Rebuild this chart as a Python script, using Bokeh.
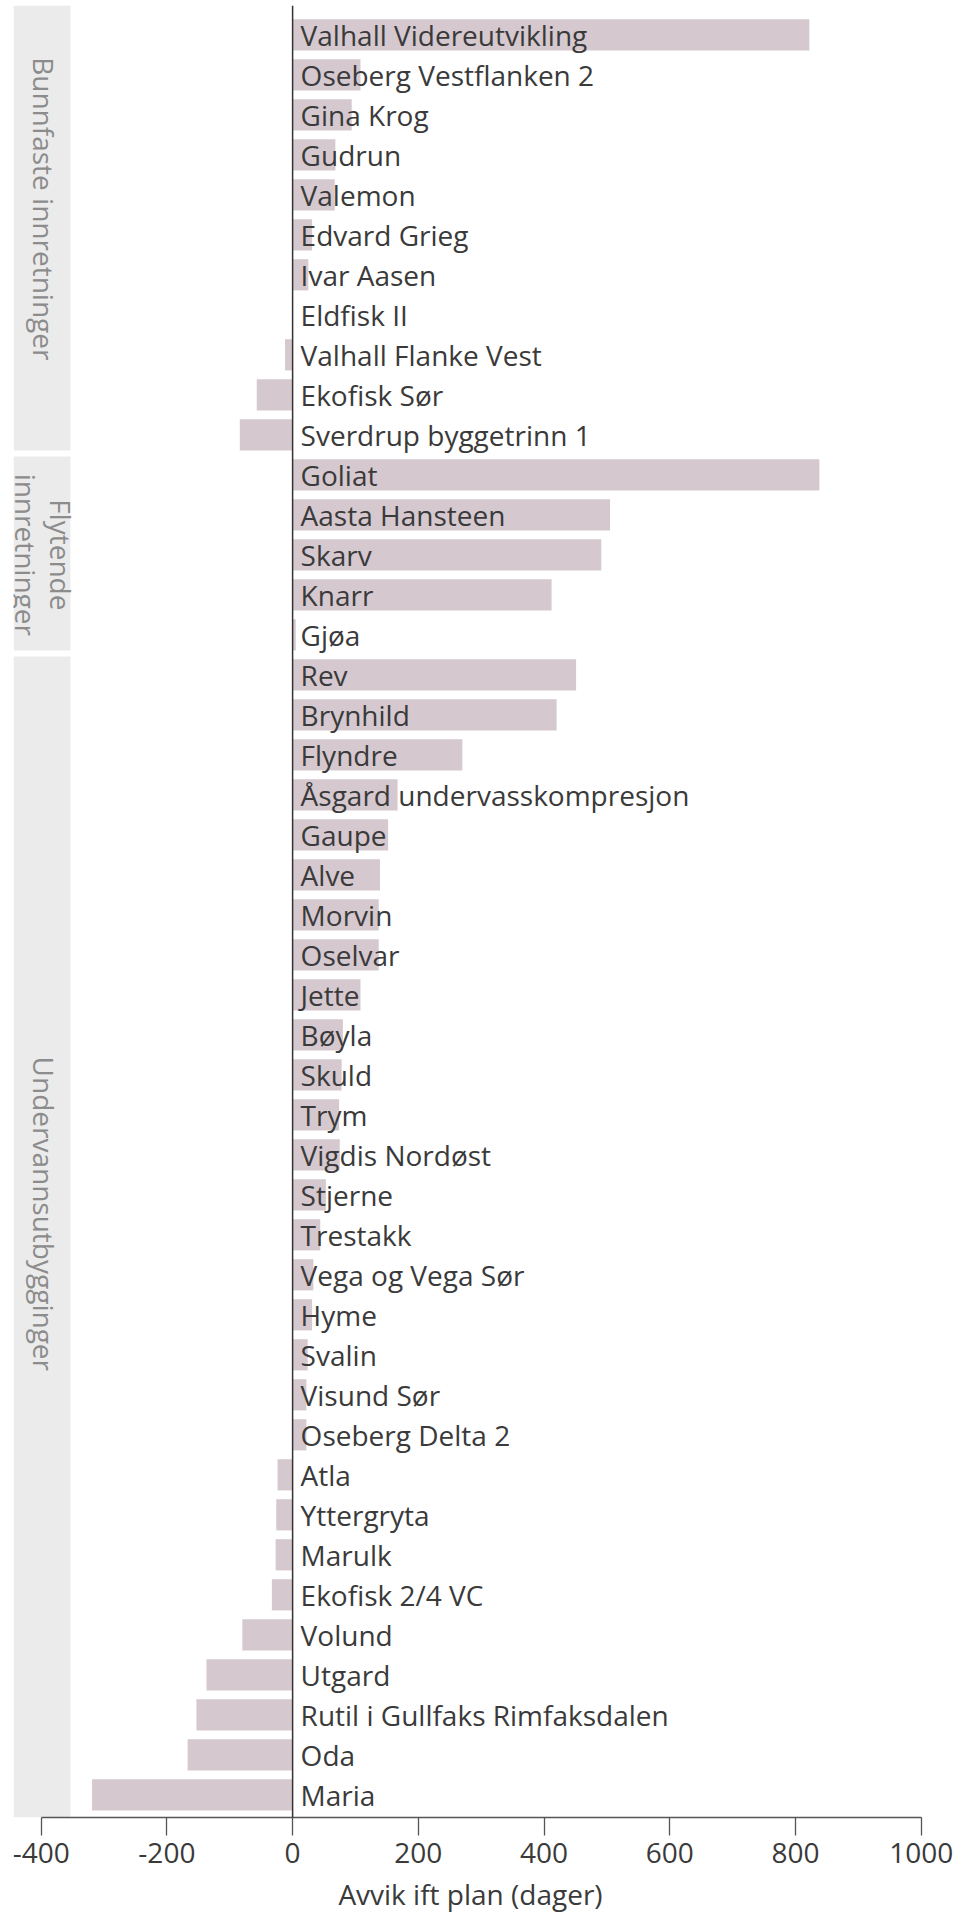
import math
from bokeh.plotting import figure
from bokeh.models import Range1d, Span, ColumnDataSource, FixedTicker
from bokeh.core.properties import value
from bokeh.embed import file_html
from bokeh.resources import INLINE

# ---------------- data ----------------
projects = [
    "Valhall Videreutvikling", "Oseberg Vestflanken 2", "Gina Krog", "Gudrun", "Valemon",
    "Edvard Grieg", "Ivar Aasen", "Eldfisk II", "Valhall Flanke Vest", "Ekofisk Sør",
    "Sverdrup byggetrinn 1",
    "Goliat", "Aasta Hansteen", "Skarv", "Knarr", "Gjøa",
    "Rev", "Brynhild", "Flyndre", "Åsgard undervasskompresjon", "Gaupe", "Alve", "Morvin",
    "Oselvar", "Jette", "Bøyla", "Skuld", "Trym", "Vigdis Nordøst", "Stjerne", "Trestakk",
    "Vega og Vega Sør", "Hyme", "Svalin", "Visund Sør", "Oseberg Delta 2", "Atla",
    "Yttergryta", "Marulk", "Ekofisk 2/4 VC", "Volund", "Utgard",
    "Rutil i Gullfaks Rimfaksdalen", "Oda", "Maria",
]
delays = [
    822, 108, 94, 68, 67, 31, 25, 0, -12, -57, -84,
    838, 505, 491, 412, 5,
    451, 420, 270, 167, 152, 139, 137, 137, 108, 80, 78, 74, 75, 53, 44,
    33, 31, 24, 22, 22, -24, -26, -27, -33, -80, -137, -153, -167, -319,
]
groups = ["Bunnfaste innretninger", "Flytende\ninnretninger", "Undervannsutbygginger"]
group_sizes = [11, 5, 29]
x_ticks = [-400, -200, 0, 200, 400, 600, 800, 1000]
x_title = "Avvik ift plan (dager)"

# ---------------- style ----------------
FONT = "Open Sans"
BAR = "#d5c8cf"
BAND = "#ebebeb"
TXT = "#3a3a3a"
BAND_TXT = "#8c8c8c"
band_label_dy = [-26, 0, -21]  # px shift of the group titles

n = len(projects)
ys = list(range(n))
x0, x1 = -444, 1010
band_left, band_right = -444, -353.5
y_top, y_bot = -0.7325, n - 0.4325

p = figure(
    frame_width=914, frame_height=1812,
    x_range=Range1d(x0, x1), y_range=Range1d(y_bot, y_top),
    y_axis_location=None, output_backend="svg", toolbar_location=None,
    min_border_left=13, min_border_right=30, min_border_top=5, min_border_bottom=20,
)
p.outline_line_color = None
p.xgrid.visible = False
p.ygrid.visible = False
p.background_fill_color = "white"
p.border_fill_color = "white"

# group bands
starts, ends = [], []
s = 0
for g in group_sizes:
    starts.append(s)
    ends.append(s + g - 1)
    s += g
tops = [max(y_top, st - 0.46) for st in starts]
bots = [min(y_bot, en + 0.39) for en in ends]
bots[-1] = y_bot
tops[0] = y_top
band_src = ColumnDataSource(dict(
    top=tops, bottom=bots,
    y=[(st + en) / 2 for st, en in zip(starts, ends)],
    label=groups, dy=band_label_dy,
))
p.quad(left=band_left, right=band_right, top="top", bottom="bottom",
       fill_color=BAND, line_color=None, source=band_src)
p.text(x=(band_left + band_right) / 2, y="y", text="label", y_offset="dy", x_offset=2,
       angle=-math.pi / 2, text_align="center", text_baseline="middle",
       text_font=value(FONT), text_font_size="28px", text_color=BAND_TXT,
       text_line_height=0.92, source=band_src)

# bars + labels
src = ColumnDataSource(dict(y=ys, delay=delays, name=projects))
p.hbar(y="y", left=0, right="delay", height=0.78, fill_color=BAR, line_color=None, source=src)
p.text(x=0, y="y", text="name", x_offset=8, text_baseline="middle", text_align="left",
       text_font=value(FONT), text_font_size="28px", text_color=TXT, source=src)

p.add_layout(Span(location=0, dimension="height", line_color="#333333", line_width=1.5))

# x axis
ax = p.xaxis[0]
ax.ticker = FixedTicker(ticks=x_ticks)
ax.major_label_overrides = {t: str(t) for t in x_ticks}
ax.bounds = (x_ticks[0], x_ticks[-1])
ax.axis_line_color = "#555555"
ax.axis_line_width = 1.3
ax.major_tick_line_color = "#555555"
ax.major_tick_line_width = 1.3
ax.major_tick_out = 18
ax.major_tick_in = 0
ax.minor_tick_out = 0
ax.minor_tick_in = 0
ax.major_label_standoff = 7
ax.major_label_text_font = FONT
ax.major_label_text_font_size = "28px"
ax.major_label_text_color = TXT
ax.axis_label = x_title
ax.axis_label_standoff = 9
ax.axis_label_text_font = FONT
ax.axis_label_text_font_size = "28px"
ax.axis_label_text_font_style = "normal"
ax.axis_label_text_color = TXT

open("out.html", "w").write(file_html(p, INLINE))
